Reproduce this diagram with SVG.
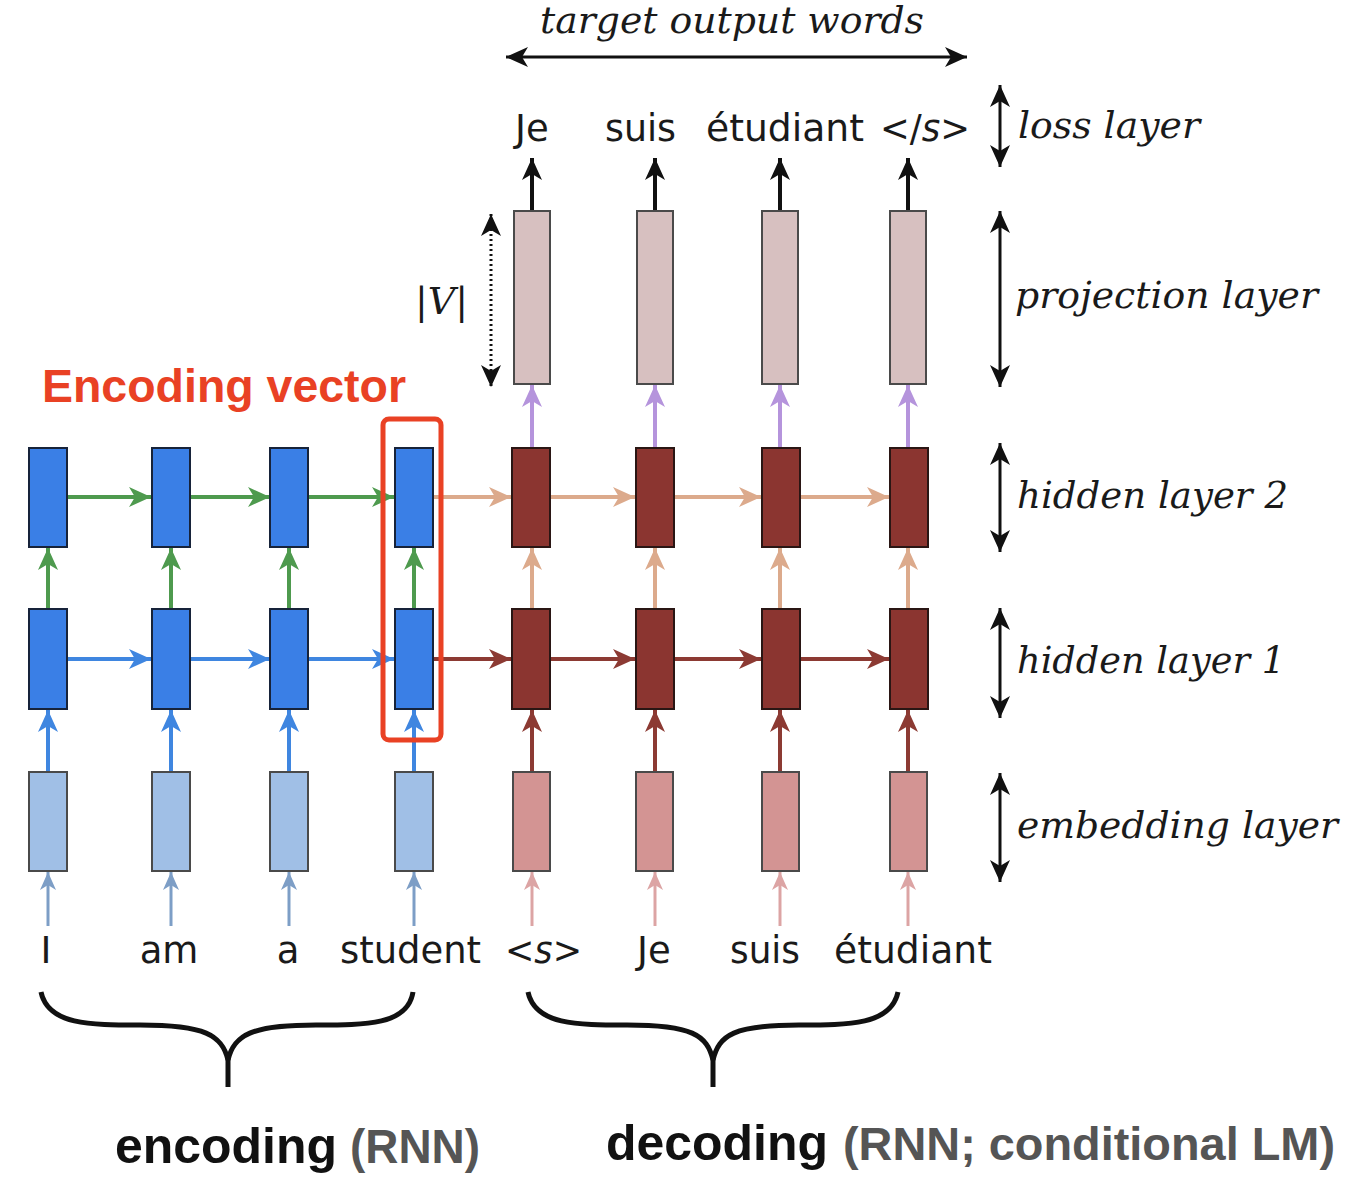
<svg xmlns="http://www.w3.org/2000/svg" width="1354" height="1178" viewBox="0 0 1354 1178">
<style>
.word{font-family:"DejaVu Sans",sans-serif;font-size:37px;fill:#1a1a1a}
.lbl{font-family:"DejaVu Serif",serif;font-style:italic;font-size:38px;fill:#1a1a1a}
.encH{fill:#3a7fe6;stroke:#17233a;stroke-width:2}
.decH{fill:#8b3530;stroke:#2a1614;stroke-width:2}
.encE{fill:#a0bfe6;stroke:#4a4a4a;stroke-width:2}
.decE{fill:#d39493;stroke:#4a4a4a;stroke-width:2}
.proj{fill:#d7c0c0;stroke:#4a4a4a;stroke-width:2}
.a{fill:none;stroke-width:4}
.thin{fill:none;stroke-width:3}
</style>
<defs>
<marker id="mG" markerUnits="userSpaceOnUse" markerWidth="24" markerHeight="22" refX="22" refY="10" orient="auto"><path d="M0,0 L22,10 L0,20 L6,10 z" fill="#4e9a4e"/></marker>
<marker id="mB" markerUnits="userSpaceOnUse" markerWidth="24" markerHeight="22" refX="22" refY="10" orient="auto"><path d="M0,0 L22,10 L0,20 L6,10 z" fill="#3f86e0"/></marker>
<marker id="mP" markerUnits="userSpaceOnUse" markerWidth="24" markerHeight="22" refX="22" refY="10" orient="auto"><path d="M0,0 L22,10 L0,20 L6,10 z" fill="#dcaa8c"/></marker>
<marker id="mR" markerUnits="userSpaceOnUse" markerWidth="24" markerHeight="22" refX="22" refY="10" orient="auto"><path d="M0,0 L22,10 L0,20 L6,10 z" fill="#8c3a33"/></marker>
<marker id="mV" markerUnits="userSpaceOnUse" markerWidth="24" markerHeight="22" refX="22" refY="10" orient="auto"><path d="M0,0 L22,10 L0,20 L6,10 z" fill="#b594dc"/></marker>
<marker id="mK" markerUnits="userSpaceOnUse" markerWidth="24" markerHeight="22" refX="22" refY="10" orient="auto"><path d="M0,0 L22,10 L0,20 L6,10 z" fill="#111"/></marker>
<marker id="mKs" markerUnits="userSpaceOnUse" markerWidth="24" markerHeight="22" refX="22" refY="10" orient="auto-start-reverse"><path d="M0,0 L22,10 L0,20 L6,10 z" fill="#111"/></marker>
<marker id="mEi" markerUnits="userSpaceOnUse" markerWidth="20" markerHeight="18" refX="18" refY="8" orient="auto"><path d="M0,0 L18,8 L0,16 L5,8 z" fill="#7d9ec6"/></marker>
<marker id="mDi" markerUnits="userSpaceOnUse" markerWidth="20" markerHeight="18" refX="18" refY="8" orient="auto"><path d="M0,0 L18,8 L0,16 L5,8 z" fill="#dca4a4"/></marker>
</defs>

<g id="connectors">
  <g stroke="#111" class="a" marker-end="url(#mK)">
    <line x1="532" y1="211" x2="532" y2="158"/>
    <line x1="655" y1="211" x2="655" y2="158"/>
    <line x1="780" y1="211" x2="780" y2="158"/>
    <line x1="908" y1="211" x2="908" y2="158"/>
  </g>
  <g stroke="#b594dc" class="a" marker-end="url(#mV)">
    <line x1="532" y1="448" x2="532" y2="385"/>
    <line x1="655" y1="448" x2="655" y2="385"/>
    <line x1="780" y1="448" x2="780" y2="385"/>
    <line x1="908" y1="448" x2="908" y2="385"/>
  </g>
  <g stroke="#4e9a4e" class="a" marker-end="url(#mG)">
    <line x1="67" y1="497" x2="151" y2="497"/>
    <line x1="190" y1="497" x2="270" y2="497"/>
    <line x1="308" y1="497" x2="394" y2="497"/>
    <line x1="48" y1="609" x2="48" y2="548"/>
    <line x1="171" y1="609" x2="171" y2="548"/>
    <line x1="289" y1="609" x2="289" y2="548"/>
    <line x1="414" y1="609" x2="414" y2="548"/>
  </g>
  <g stroke="#dcaa8c" class="a" marker-end="url(#mP)">
    <line x1="433" y1="497" x2="511" y2="497"/>
    <line x1="550" y1="497" x2="635" y2="497"/>
    <line x1="674" y1="497" x2="761" y2="497"/>
    <line x1="800" y1="497" x2="889" y2="497"/>
    <line x1="532" y1="609" x2="532" y2="548"/>
    <line x1="655" y1="609" x2="655" y2="548"/>
    <line x1="780" y1="609" x2="780" y2="548"/>
    <line x1="908" y1="609" x2="908" y2="548"/>
  </g>
  <g stroke="#3f86e0" class="a" marker-end="url(#mB)">
    <line x1="67" y1="659" x2="151" y2="659"/>
    <line x1="190" y1="659" x2="270" y2="659"/>
    <line x1="308" y1="659" x2="394" y2="659"/>
    <line x1="48" y1="772" x2="48" y2="710"/>
    <line x1="171" y1="772" x2="171" y2="710"/>
    <line x1="289" y1="772" x2="289" y2="710"/>
    <line x1="414" y1="772" x2="414" y2="710"/>
  </g>
  <g stroke="#8c3a33" class="a" marker-end="url(#mR)">
    <line x1="433" y1="659" x2="511" y2="659"/>
    <line x1="550" y1="659" x2="635" y2="659"/>
    <line x1="674" y1="659" x2="761" y2="659"/>
    <line x1="800" y1="659" x2="889" y2="659"/>
    <line x1="532" y1="772" x2="532" y2="710"/>
    <line x1="655" y1="772" x2="655" y2="710"/>
    <line x1="780" y1="772" x2="780" y2="710"/>
    <line x1="908" y1="772" x2="908" y2="710"/>
  </g>
  <g stroke="#7d9ec6" class="thin" marker-end="url(#mEi)">
    <line x1="48" y1="926" x2="48" y2="872"/>
    <line x1="171" y1="926" x2="171" y2="872"/>
    <line x1="289" y1="926" x2="289" y2="872"/>
    <line x1="414" y1="926" x2="414" y2="872"/>
  </g>
  <g stroke="#dca4a4" class="thin" marker-end="url(#mDi)">
    <line x1="532" y1="926" x2="532" y2="872"/>
    <line x1="655" y1="926" x2="655" y2="872"/>
    <line x1="780" y1="926" x2="780" y2="872"/>
    <line x1="908" y1="926" x2="908" y2="872"/>
  </g>
  <g stroke="#111" class="thin" marker-start="url(#mKs)" marker-end="url(#mKs)">
    <line x1="506" y1="57" x2="967" y2="57"/>
    <line x1="1000" y1="85" x2="1000" y2="167"/>
    <line x1="1000" y1="211" x2="1000" y2="387"/>
    <line x1="1000" y1="443" x2="1000" y2="552"/>
    <line x1="1000" y1="608" x2="1000" y2="718"/>
    <line x1="1000" y1="773" x2="1000" y2="882"/>
  </g>
  <line x1="491" y1="214" x2="491" y2="387" stroke="#111" stroke-width="3" stroke-dasharray="2 3" marker-start="url(#mKs)" marker-end="url(#mKs)"/>
</g>

<g id="enc1"><rect class="encE" x="29" y="772" width="38" height="99"/><rect class="encH" x="29" y="609" width="38" height="100"/><rect class="encH" x="29" y="448" width="38" height="99"/></g>
<g id="enc2"><rect class="encE" x="152" y="772" width="38" height="99"/><rect class="encH" x="152" y="609" width="38" height="100"/><rect class="encH" x="152" y="448" width="38" height="99"/></g>
<g id="enc3"><rect class="encE" x="270" y="772" width="38" height="99"/><rect class="encH" x="270" y="609" width="38" height="100"/><rect class="encH" x="270" y="448" width="38" height="99"/></g>
<g id="enc4"><rect class="encE" x="395" y="772" width="38" height="99"/><rect class="encH" x="395" y="609" width="38" height="100"/><rect class="encH" x="395" y="448" width="38" height="99"/></g>

<g id="dec1"><rect class="decE" x="513" y="772" width="37" height="99"/><rect class="decH" x="512" y="609" width="38" height="100"/><rect class="decH" x="512" y="448" width="38" height="99"/><rect class="proj" x="514" y="211" width="36" height="173"/></g>
<g id="dec2"><rect class="decE" x="636" y="772" width="37" height="99"/><rect class="decH" x="636" y="609" width="38" height="100"/><rect class="decH" x="636" y="448" width="38" height="99"/><rect class="proj" x="637" y="211" width="36" height="173"/></g>
<g id="dec3"><rect class="decE" x="762" y="772" width="37" height="99"/><rect class="decH" x="762" y="609" width="38" height="100"/><rect class="decH" x="762" y="448" width="38" height="99"/><rect class="proj" x="762" y="211" width="36" height="173"/></g>
<g id="dec4"><rect class="decE" x="890" y="772" width="37" height="99"/><rect class="decH" x="890" y="609" width="38" height="100"/><rect class="decH" x="890" y="448" width="38" height="99"/><rect class="proj" x="890" y="211" width="36" height="173"/></g>

<g id="encoding-vector">
  <rect x="383" y="419" width="58" height="321" rx="6" fill="none" stroke="#e94124" stroke-width="5"/>
  <text x="42" y="402" font-family="Liberation Sans, Arial, sans-serif" font-weight="bold" font-size="46" fill="#e94124" textLength="364" lengthAdjust="spacingAndGlyphs">Encoding vector</text>
</g>

<g id="top-labels">
  <text class="lbl" x="540" y="33" font-size="36" textLength="384" lengthAdjust="spacingAndGlyphs">target output words</text>
  <text class="word" x="515" y="141">Je</text>
  <text class="word" x="605" y="141" textLength="71" lengthAdjust="spacingAndGlyphs">suis</text>
  <text class="word" x="706" y="141" textLength="158" lengthAdjust="spacingAndGlyphs">étudiant</text>
  <text class="word" x="880" y="141" textLength="90" lengthAdjust="spacingAndGlyphs">&lt;/<tspan font-style="italic">s</tspan>&gt;</text>
  <text class="lbl" x="415" y="314" font-size="36">|<tspan font-style="italic">V</tspan>|</text>
</g>

<g id="layer-labels">
  <text class="lbl" x="1018" y="138" textLength="182" lengthAdjust="spacingAndGlyphs">loss layer</text>
  <text class="lbl" x="1015" y="308" textLength="303" lengthAdjust="spacingAndGlyphs">projection layer</text>
  <text class="lbl" x="1017" y="508" textLength="271" lengthAdjust="spacingAndGlyphs">hidden layer 2</text>
  <text class="lbl" x="1017" y="673" textLength="268" lengthAdjust="spacingAndGlyphs">hidden layer 1</text>
  <text class="lbl" x="1017" y="838" textLength="321" lengthAdjust="spacingAndGlyphs">embedding layer</text>
</g>

<g id="input-words">
  <text class="word" x="46" y="963" text-anchor="middle">I</text>
  <text class="word" x="169" y="963" text-anchor="middle">am</text>
  <text class="word" x="288" y="963" text-anchor="middle">a</text>
  <text class="word" x="340" y="963" textLength="141" lengthAdjust="spacingAndGlyphs">student</text>
  <text class="word" x="505" y="963" textLength="77" lengthAdjust="spacingAndGlyphs">&lt;<tspan font-style="italic">s</tspan>&gt;</text>
  <text class="word" x="637" y="963">Je</text>
  <text class="word" x="730" y="963" textLength="70" lengthAdjust="spacingAndGlyphs">suis</text>
  <text class="word" x="834" y="963" textLength="158" lengthAdjust="spacingAndGlyphs">étudiant</text>
</g>

<g id="braces" fill="none" stroke="#111" stroke-width="5">
  <path d="M41,992 C48,1025 90,1025 140,1025 C205,1025 222,1035 228,1060 C234,1035 251,1025 316,1025 C366,1025 408,1025 413,992"/>
  <line x1="228" y1="1058" x2="228" y2="1087"/>
  <path d="M528,992 C535,1025 577,1025 627,1025 C692,1025 707,1035 713,1060 C719,1035 734,1025 799,1025 C849,1025 891,1025 898,992"/>
  <line x1="713" y1="1058" x2="713" y2="1087"/>
</g>

<g id="bottom-labels" font-family="Liberation Sans, Arial, sans-serif" font-weight="bold">
  <text x="115" y="1163" font-size="50" fill="#111" textLength="222" lengthAdjust="spacingAndGlyphs">encoding</text>
  <text x="350" y="1163" font-size="48" fill="#555" textLength="130" lengthAdjust="spacingAndGlyphs">(RNN)</text>
  <text x="606" y="1160" font-size="50" fill="#111" textLength="222" lengthAdjust="spacingAndGlyphs">decoding</text>
  <text x="843" y="1160" font-size="47" fill="#555" textLength="492" lengthAdjust="spacingAndGlyphs">(RNN; conditional LM)</text>
</g>
</svg>
